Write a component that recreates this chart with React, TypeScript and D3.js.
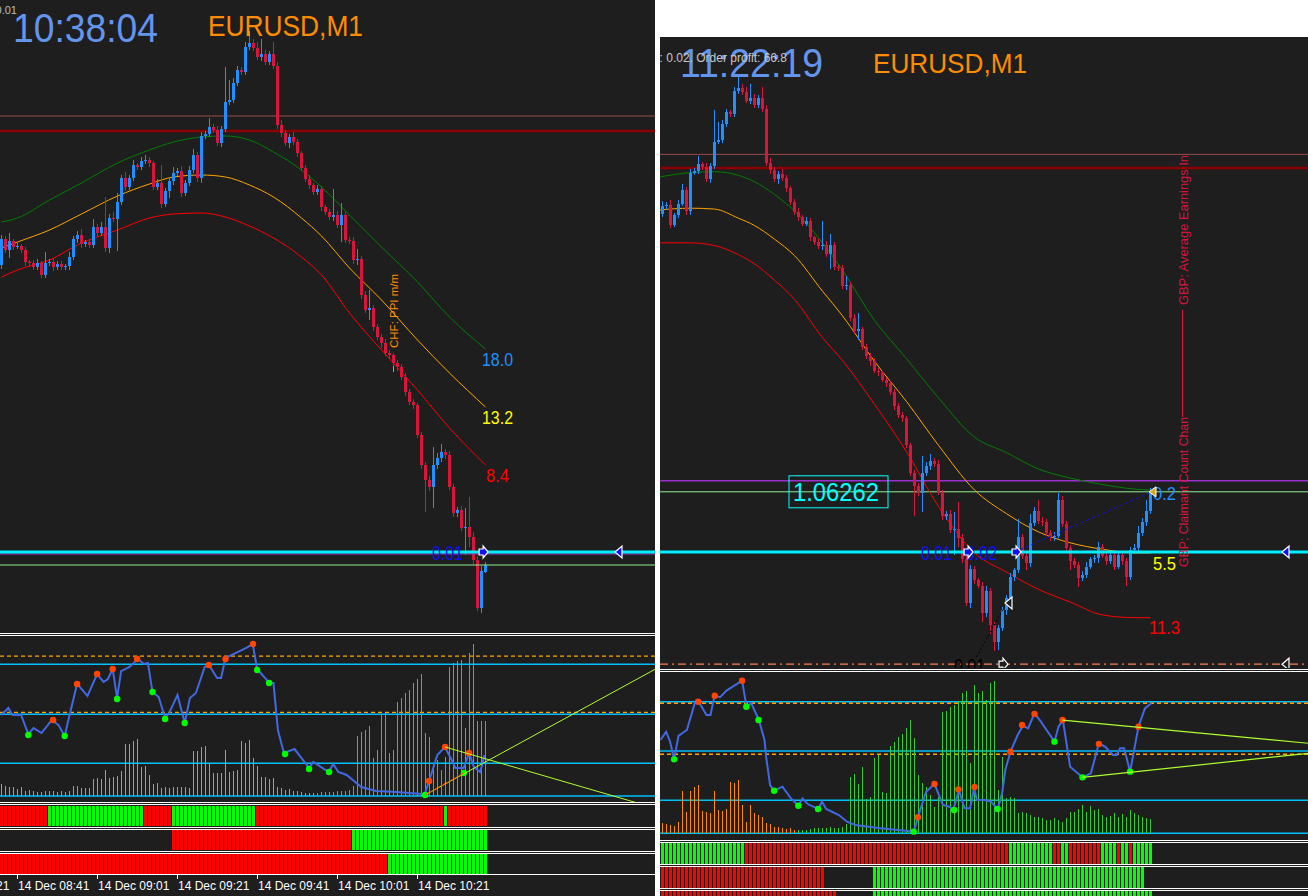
import React from "react";
import * as d3 from "d3";

// ---------------- DATA ----------------
const POINT = 0.00001;
const firstOpen = 1.06483;
// EURUSD M1 closes, bar 0 = 14 Dec 08:37 ... bar 165 = 11:22
const closes = [
  1.06509, 1.06498, 1.06507, 1.06501, 1.06502, 1.06498, 1.06486, 1.06485, 1.06481, 1.06485,
  1.06473, 1.06485, 1.06486, 1.06481, 1.06484, 1.06481, 1.06482, 1.06491, 1.06509, 1.06513,
  1.06504, 1.06506, 1.06503, 1.06521, 1.06515, 1.06521, 1.065, 1.0653, 1.06529, 1.06546,
  1.0657, 1.06561, 1.0657, 1.06583, 1.06581, 1.06587, 1.06588, 1.06585, 1.06561, 1.06565,
  1.06544, 1.06557, 1.06567, 1.06575, 1.06577, 1.06555, 1.06565, 1.06578, 1.06593, 1.0657,
  1.06612, 1.06614, 1.06621, 1.06618, 1.06605, 1.06619, 1.06646, 1.06648, 1.06665, 1.06678,
  1.06676, 1.06701, 1.06705, 1.067, 1.06691, 1.06694, 1.06686, 1.06694, 1.06682, 1.06623,
  1.06615, 1.06605, 1.06611, 1.06606, 1.06595, 1.0658, 1.06569, 1.06563, 1.06556, 1.06559,
  1.06541, 1.06536, 1.06531, 1.06533, 1.06523, 1.06533, 1.06508, 1.06507, 1.06488, 1.06489,
  1.06453, 1.06438, 1.0644, 1.06421, 1.06411, 1.06405, 1.06395, 1.06393, 1.06385, 1.06381,
  1.06371, 1.06356, 1.06346, 1.06343, 1.06313, 1.06283, 1.06268, 1.06261, 1.06283, 1.0629,
  1.06296, 1.06293, 1.06261, 1.06235, 1.06238, 1.0622, 1.06221, 1.06211, 1.06188, 1.0614,
  1.06177, 1.06165, 1.06159, 1.06129, 1.06153, 1.06116, 1.06097, 1.06113, 1.06132, 1.06146,
  1.06169, 1.06176, 1.06212, 1.06192, 1.06184, 1.06228, 1.06241, 1.0623, 1.06229, 1.06217,
  1.06212, 1.06214, 1.06253, 1.06227, 1.062, 1.06186, 1.06182, 1.06168, 1.06171, 1.0618,
  1.06188, 1.06189, 1.06202, 1.06192, 1.06186, 1.06193, 1.0618, 1.06193, 1.06186, 1.06169,
  1.06198, 1.062, 1.06217, 1.06229, 1.06241, 1.06262,
];
// wick lengths in points above / below the body
const wickUp = [
  4, 3, 8, 2, 3, 2, 3, 2, 3, 4, 2, 11, 3, 4, 3, 3, 2, 5, 3, 4,
  6, 2, 3, 8, 3, 5, 30, 4, 6, 9, 3, 6, 3, 5, 2, 4, 5, 3, 2, 4,
  18, 3, 4, 6, 3, 5, 3, 4, 6, 3, 4, 3, 9, 3, 4, 3, 35, 20, 5, 4,
  3, 5, 12, 4, 6, 15, 4, 3, 12, 4, 5, 3, 3, 5, 3, 2, 3, 4, 2, 4,
  3, 2, 3, 26, 4, 12, 3, 3, 4, 10, 3, 4, 18, 3, 3, 3, 4, 3, 2, 3,
  3, 4, 3, 3, 2, 3, 3, 4, 18, 5, 8, 3, 4, 3, 3, 4, 19, 30, 5, 4,
  5, 4, 3, 4, 6, 4, 3, 3, 4, 3, 4, 3, 20, 4, 3, 10, 4, 12, 4, 3,
  3, 4, 8, 4, 3, 4, 3, 3, 4, 5, 3, 4, 5, 3, 4, 3, 4, 3, 4, 3,
  4, 5, 8, 4, 12, 4,
];
const wickDown = [
  4, 3, 8, 3, 2, 3, 4, 3, 3, 3, 3, 3, 3, 4, 3, 3, 3, 4, 3, 4,
  4, 3, 3, 3, 4, 3, 4, 5, 3, 32, 3, 4, 3, 3, 3, 3, 3, 4, 3, 3,
  4, 3, 7, 4, 3, 4, 3, 3, 3, 4, 5, 3, 3, 3, 3, 4, 3, 3, 3, 3,
  3, 3, 3, 3, 3, 4, 3, 3, 3, 4, 4, 3, 5, 3, 4, 3, 3, 4, 3, 3,
  4, 3, 3, 4, 3, 17, 3, 3, 4, 5, 4, 3, 10, 4, 3, 5, 3, 4, 3, 4,
  3, 4, 3, 4, 3, 4, 32, 4, 21, 4, 4, 4, 3, 4, 4, 3, 27, 10, 4, 3,
  5, 4, 3, 10, 4, 10, 10, 8, 4, 5, 4, 5, 3, 4, 8, 4, 3, 3, 4, 4,
  4, 4, 3, 4, 3, 10, 4, 10, 4, 4, 3, 4, 5, 3, 4, 3, 4, 3, 4, 10,
  4, 3, 4, 3, 4, 3,
];
// 10:38 bar as it was at 10:38:04 (open, high, low, close)
const liveBarLeft = [1.06176, 1.06186, 1.06175, 1.06183];

// TMA bands, left snapshot
const maIdxL = [0, 4, 12, 20, 29, 37, 43, 50, 56, 62, 68, 75, 80, 87, 95, 104, 112, 121];
const maUpperL = [1.06526, 1.0653, 1.06548, 1.06565, 1.06585, 1.06598, 1.06606, 1.06611, 1.06612, 1.06608, 1.06596, 1.06578, 1.06561, 1.06533, 1.06501, 1.06466, 1.06431, 1.06399];
const maMiddleL = [1.065, 1.06506, 1.06518, 1.06534, 1.06552, 1.06564, 1.06571, 1.06573, 1.06571, 1.06563, 1.06551, 1.0653, 1.06512, 1.0648, 1.06448, 1.06408, 1.06375, 1.06341];
const maLowerL = [1.06471, 1.06478, 1.06488, 1.06505, 1.06518, 1.0653, 1.06534, 1.06535, 1.06531, 1.06522, 1.0651, 1.06491, 1.06473, 1.06435, 1.06398, 1.06358, 1.0632, 1.06283];
const maLabelsL = ["18.0", "13.2", "8.4"];
// TMA bands, right snapshot
const maIdxR = [42, 50, 56, 62, 66, 71, 76, 83, 88, 96, 104, 112, 121, 129, 137, 145, 153, 161, 165];
const maUpperR = [1.06607, 1.06612, 1.06613, 1.06609, 1.06602, 1.06588, 1.0657, 1.06535, 1.06505, 1.0645, 1.06408, 1.06365, 1.06322, 1.06305, 1.06287, 1.06277, 1.0627, 1.06265, 1.06264];
const maMiddleR = [1.06571, 1.06573, 1.06572, 1.06562, 1.06554, 1.06539, 1.06521, 1.06482, 1.06455, 1.06405, 1.06361, 1.06313, 1.06264, 1.06238, 1.06218, 1.06206, 1.06199, 1.06195, 1.06195];
const maLowerR = [1.06535, 1.06535, 1.06532, 1.06522, 1.06512, 1.06494, 1.06473, 1.06431, 1.06406, 1.06358, 1.06306, 1.06246, 1.06195, 1.06174, 1.06155, 1.06141, 1.06127, 1.06124, 1.06124];
const maLabelsR = ["0.2", "5.5", "11.3"];

// price levels
const levelThin = 1.06632;
const levelThick = 1.06617;
const orderPrice = 1.06196;
const bidL = 1.06183, askL = 1.06194;
const bidR = 1.06262, askR = 1.06274;
const stopR = 1.06073;

// oscillator (left)
const oscIdxL = [0, 1.7, 2.75, 4.9, 6.7, 8, 10, 12.6, 14.25, 15.8, 16.9, 18.9, 21.5, 23.9, 25.5, 26.6, 27.8, 28.9, 29.9, 32, 34.1, 35.6, 36.6, 37.75, 39.3, 40.9, 41.9, 44, 45.8, 47.1, 48.6, 50.8, 51.85, 53.9, 54.9, 56, 58.1, 61.2, 62.8, 63.9, 67, 68, 69.1, 70.6, 73.25, 76.9, 77.95, 81.8, 82.95, 84.2, 86.3, 89.95, 93.6, 98.8, 105.1, 105.8, 106.9, 108.95, 110.85, 112.4, 113.45, 115.55, 116.9, 118.1, 119.7, 120.75];
const oscValL = [54, 58.7, 54, 54, 41.3, 45.3, 42, 50.7, 47.3, 40, 52.7, 74.7, 66.7, 81.3, 76, 78, 84.7, 65.3, 83.3, 86, 91.3, 88, 88.7, 69.3, 66, 52, 55.3, 67.3, 48.7, 65.3, 68.7, 86, 87.3, 78.7, 78.7, 92, 94.7, 98.7, 101.3, 84.7, 75.3, 75.3, 44, 28.7, 31.3, 18.7, 22.7, 16, 21.3, 16, 14, 6, 3.3, 2.7, 1.3, 1.3, 10, 27.3, 32.7, 24.7, 18.7, 18.7, 28.7, 19.3, 16, 27.3];
const peakIdxL = [12.9, 18.9, 23.9, 27.8, 33.9, 51.85, 56, 62.9, 106.9, 110.9, 116.9];
const peakValL = [50.7, 74.7, 81.3, 84.7, 91.3, 87.3, 91.3, 101.3, 10, 32.7, 28.7];
const troughIdxL = [6.7, 15.8, 28.9, 37.75, 40.9, 45.8, 63.9, 66.9, 70.9, 76.9, 81.9, 105.9, 115.6];
const troughValL = [40.7, 40, 64.7, 69.3, 51.3, 48.7, 84, 75.3, 28, 18, 16, 0.7, 15.3];
const histL = [
  8, 6.7, 6.2, 6.2, 4.4, 5.8, 3.3, 4, 3.3, 2.7, 2.9, 3.3, 3.6, 3.6, 2.7, 3.3, 2.9, 3.3, 6.7, 6.7,
  5.6, 5.1, 5.6, 11.3, 12.2, 11.1, 17.3, 12.2, 12.9, 13.3, 16.9, 34.7, 34.7, 36.4, 38, 19.6, 20, 14.2, 8, 8.9,
  5.6, 5.8, 5.6, 6.2, 6.2, 5.8, 6.2, 5.6, 30.2, 30.2, 32.4, 33.3, 21.8, 15.6, 15.1, 15.6, 30.7, 16.2, 16.9, 17.3,
  36.4, 35.1, 37.3, 25.1, 20, 12.9, 12.9, 11.6, 12, 6.2, 5.1, 4, 4.4, 3.6, 3.1, 2.7, 2.2, 2.2, 2, 2.2,
  2.4, 2.7, 2.9, 2.9, 3.1, 3.3, 3.3, 4, 6.7, 40, 42.9, 44, 46.7, 25.1, 30.7, 55, 55.6, 28.4, 30.7, 62.9,
  65.1, 68.4, 70.7, 75.1, 77.8, 81.3, 41.8, 39.6, 21.8, 24, 17.3, 26.2, 86.2, 88.4, 90.2, 90.7, 45.1, 95.6, 101.3, 50.2,
  50.2, 50.2,
];
const histGreenFromL = 79;
const levelsCyanL = [0, 21.8, 54.5, 87.8];
const levelsOrangeL = [93.3, 55.8];
const trendL = [[[110.85, 32.7], [158.4, -4.2]], [[105.9, 0.7], [163.4, 84.5]]];
const trendHiL = [[105.9, 0.7], [115.6, 15.3]];

// oscillator (right)
const oscIdxR = [42.5, 43.9, 44.9, 45.9, 47, 49.1, 51.1, 52.2, 54, 55, 56, 57.4, 59, 62.9, 64, 65.2, 67.1, 68.5, 68.9, 69.9, 70.9, 73, 75.1, 77, 78, 79.3, 81.9, 82.9, 83.9, 87.1, 89.1, 91.2, 97.5, 103.7, 105.8, 106.9, 108.9, 111, 113.1, 114.7, 115.7, 117.1, 118.5, 119.9, 120.9, 121.6, 123.5, 125.1, 126.8, 127.9, 128.7, 130, 131.8, 133.1, 134.4, 136, 137.6, 139.3, 141, 142, 143.1, 144.9, 148, 150.1, 152.1, 153.7, 155.6, 156.6, 157.4, 158.4, 159.9, 162, 163.6, 165.2];
const oscValR = [62.2, 67.7, 61.1, 49.3, 64.9, 68.9, 87.1, 87.1, 78.9, 78.9, 91.7, 90.7, 95.1, 101.7, 84.4, 86.7, 75.5, 62.2, 51.1, 32.2, 28.4, 31.1, 23.3, 18.4, 23.3, 19.5, 16.2, 21.1, 16.2, 12.2, 7.7, 5.5, 3.3, 1.7, 1.1, 11.1, 27.7, 32.9, 18.9, 17.7, 15.5, 28.9, 16.7, 16.7, 30, 22.2, 22.2, 21.1, 16.2, 26.7, 42.2, 54.4, 65.5, 71.7, 70, 80, 74.4, 67.7, 61.1, 71.1, 75.5, 44.4, 37.3, 40, 60, 57.7, 52.2, 52.2, 56.7, 56.7, 41.1, 71.1, 83.3, 86.7];
const peakIdxR = [51.9, 56.05, 62.9, 106.85, 111, 116.95, 121, 129.96, 132.9, 136, 143, 152.1, 162];
const peakValR = [87.7, 91.7, 101.7, 10.7, 32.9, 29.3, 30.9, 54.4, 72.2, 79.6, 75.5, 59.6, 71.1];
const troughIdxR = [45.9, 63.95, 67, 70.9, 76.96, 81.9, 105.8, 115.9, 126.8, 141, 148, 159.9];
const troughValR = [49.3, 84.4, 75.5, 28.4, 18.4, 16.2, 1.1, 15.5, 16.2, 61.1, 37.3, 41.1];
const histStartR = 43;
const histR = [
  6.7, 6.2, 5.8, 5.1, 7.8, 28.2, 14.4, 28.2, 31.1, 32.2,
  15.1, 14, 13.8, 28.2, 15.6, 14.9, 16, 34.4, 33.8, 35.6,
  18.9, 7.8, 18.7, 13.3, 12.2, 11.1, 6.7, 6.2, 4.4, 4,
  3.3, 2.9, 3.3, 2.2, 2.2, 2.2, 2.2, 2.9, 3.3, 3.8,
  3.3, 3.8, 4.4, 3.3, 3.8, 4.4, 6, 37.8, 39.3, 32.9,
  44.4, 22.7, 24, 50, 52.2, 27.8, 27.1, 58.2, 61.1, 64.4,
  66.2, 70, 75.6, 63.3, 38.9, 33.8, 31.1, 25.6, 17.8, 24,
  81.1, 81.8, 84.4, 85.6, 88.4, 93.8, 95.1, 47.1, 98.9, 93.3,
  95.1, 88.9, 100, 101.8, 28.9, 51.1, 23.3, 24, 23.3, 13.3,
  14.4, 13.3, 12.2, 11.1, 11.1, 10, 8.9, 8.9, 10, 8.9,
  7.8, 10, 14.4, 14.4, 16, 18.9, 14.4, 18.2, 15.6, 16,
  12.2, 11.1, 11.6, 13.3, 11.1, 12.9, 10.7, 15.6, 13.3, 12.2,
  11.1, 10, 9.6,
];
const histGreenFromR = 77;
const levelsCyanR = [0, 22, 54.9, 87.7];
const levelsOrangeR = [86.7, 52.7];
const trendR = [[[143, 75.5], [204.5, 60]], [[148, 37.3], [204.5, 53.3]]];

// trend state rows (run lengths: colour, bar count)
const rowL1 = [["r", 12], ["g", 24], ["r", 7], ["g", 21], ["r", 47], ["g", 1], ["r", 10]];
const rowL2 = [["-", 43], ["r", 45], ["g", 34]];
const rowL3 = [["r", 97], ["g", 25]];
const rowR1 = [["g", 21], ["r", 66], ["g", 11], ["r", 2], ["g", 2], ["r", 8], ["g", 4], ["r", 1], ["g", 2], ["r", 1], ["g", 5]];
const rowR2 = [["r", 41], ["-", 12], ["g", 68], ["-", 2]];
const rowR3 = [["r", 44], ["-", 9], ["g", 70]];

// time axis (left)
const tickBarsL = [-16, 4, 24, 44, 64, 84, 104];
const tickLabelsL = ["14 Dec 08:21", "14 Dec 08:41", "14 Dec 09:01", "14 Dec 09:21", "14 Dec 09:41", "14 Dec 10:01", "14 Dec 10:21"];

// ---------------- DRAWING ----------------
const DARK = "#1e1e1e";
const BULL = "#1e90ff";
const BEAR = "#dc143c";
const FONT = "'Liberation Sans', Arial, sans-serif";

function buildBars() {
  return closes.map((c, i) => {
    const o = i === 0 ? firstOpen : closes[i - 1];
    return { i, o, c, h: Math.max(o, c) + wickUp[i] * POINT, l: Math.min(o, c) - wickDown[i] * POINT };
  });
}

function Candles({ bars, x, y }) {
  return (
    <g shapeRendering="crispEdges">
      {bars.map((b) => {
        const col = b.c >= b.o ? BULL : BEAR;
        const cx = x(b.i);
        const top = y(Math.max(b.o, b.c));
        const bot = y(Math.min(b.o, b.c));
        return (
          <g key={b.i}>
            <line x1={cx} x2={cx} y1={y(b.h)} y2={y(b.l)} stroke={col} strokeWidth={1} />
            <rect x={cx - 1.5} y={top} width={3} height={Math.max(1, bot - top)} fill={col} />
          </g>
        );
      })}
    </g>
  );
}

function expandRuns(runs, start) {
  const out = [];
  let i = start;
  for (const [c, n] of runs) {
    for (let k = 0; k < n; k++) {
      if (c !== "-") out.push({ i, c });
      i++;
    }
  }
  return out;
}

function StateRow({ runs, start, x, y0, h }) {
  return (
    <g shapeRendering="crispEdges">
      {expandRuns(runs, start).map((d) => (
        <rect key={d.i} x={x(d.i) - 1.5} y={y0} width={3} height={h} fill={d.c === "r" ? "#ff0000" : "#00ff00"} />
      ))}
    </g>
  );
}

function ArrowRight({ cx, cy, fill }) {
  const p = [[-4, -3], [0, -3], [0, -6], [5, 0], [0, 6], [0, 3], [-4, 3]];
  return <polygon points={p.map(([a, b]) => `${cx + a},${cy + b}`).join(" ")} fill={fill} stroke="#ffffff" strokeWidth={1.2} />;
}
function TriLeft({ cx, cy, fill }) {
  const p = [[-4, 0], [3, -6], [3, 6]];
  return <polygon points={p.map(([a, b]) => `${cx + a},${cy + b}`).join(" ")} fill={fill} stroke="#ffffff" strokeWidth={1.2} />;
}

function MAs({ idx, upper, middle, lower, x, y }) {
  const mk = (vals) => d3.line().x((d) => x(d[0])).y((d) => y(d[1])).curve(d3.curveMonotoneX)(idx.map((v, k) => [v, vals[k]]));
  return (
    <g fill="none" strokeWidth={1}>
      <path d={mk(upper)} stroke="#008000" />
      <path d={mk(middle)} stroke="#ffa500" />
      <path d={mk(lower)} stroke="#ff0000" />
    </g>
  );
}

function Osc({ idx, vals, peaksI, peaksV, troughsI, troughsV, x, o }) {
  const path = d3.line().x((d) => x(d[0])).y((d) => o(d[1]))(idx.map((v, k) => [v, vals[k]]));
  return (
    <g>
      <path d={path} fill="none" stroke="#4169e1" strokeWidth={2} />
      {peaksI.map((v, k) => (
        <circle key={"p" + k} cx={x(v)} cy={o(peaksV[k])} r={3.2} fill="#ff4500" />
      ))}
      {troughsI.map((v, k) => (
        <circle key={"t" + k} cx={x(v)} cy={o(troughsV[k])} r={3.2} fill="#00ff00" />
      ))}
    </g>
  );
}

function Hist({ vals, start, greenFrom, x, o }) {
  return (
    <g shapeRendering="crispEdges">
      {vals.map((v, k) => {
        const i = start + k;
        return (
          <line key={i} x1={x(i)} x2={x(i)} y1={o(0)} y2={o(v)} stroke={i < greenFrom ? "#ff8c00" : "#32cd32"} strokeWidth={1} />
        );
      })}
    </g>
  );
}

export default function App() {
  const xL = d3.scaleLinear().domain([0, 121]).range([1.5, 485.5]);
  const xR = d3.scaleLinear().domain([43, 165]).range([662.5, 1150.5]);
  const yL = d3.scaleLinear().domain([1.06, 1.067]).range([748, 48]);
  const yR = d3.scaleLinear().domain([1.06, 1.067]).range([730.75, 92.35]);
  const oL = d3.scaleLinear().domain([0, 100]).range([796, 646]);
  const oR = d3.scaleLinear().domain([0, 100]).range([833.3, 683.3]);

  const all = buildBars();
  const leftBars = all.slice(0, 121).concat([
    { i: 121, o: liveBarLeft[0], h: liveBarLeft[1], l: liveBarLeft[2], c: liveBarLeft[3] },
  ]);
  const rightBars = all.slice(43);

  const lastL = maIdxL[maIdxL.length - 1];
  const lastR = maIdxR[maIdxR.length - 1];
  const endL = [maUpperL, maMiddleL, maLowerL].map((a) => a[a.length - 1]);
  const endR = [maUpperR, maMiddleR, maLowerR].map((a) => a[a.length - 1]);
  const labelCols = ["#1e90ff", "#ffff00", "#ff0000"];
  const dyL = [17, 17, 17];
  const dyR = [10, 17, 16];

  const hline = (y, x1, x2, stroke, w, dash?) => (
    <line x1={x1} x2={x2} y1={y} y2={y} stroke={stroke} strokeWidth={w} strokeDasharray={dash} />
  );

  return (
    <div style={{ position: "absolute", left: 0, top: 0 }}>
      <svg width={1308} height={896} style={{ display: "block" }} fontFamily={FONT}>
        <defs>
          <clipPath id="cLM"><rect x={0} y={0} width={655} height={632} /></clipPath>
          <clipPath id="cLO"><rect x={0} y={637} width={655} height={165} /></clipPath>
          <clipPath id="cRM"><rect x={660} y={37} width={648} height={631} /></clipPath>
          <clipPath id="cRO"><rect x={660} y={672} width={648} height={168} /></clipPath>
          <clipPath id="cR"><rect x={660} y={37} width={648} height={859} /></clipPath>
          <clipPath id="cL"><rect x={0} y={0} width={655} height={896} /></clipPath>
        </defs>
        <rect x={0} y={0} width={1308} height={896} fill="#ffffff" />
        <rect x={0} y={0} width={655} height={896} fill={DARK} />
        <rect x={660} y={37} width={648} height={859} fill={DARK} />

        {/* ================= LEFT ================= */}
        <g clipPath="url(#cLM)">
          {hline(yL(levelThin), 0, 655, "#9a4a4a", 1)}
          {hline(yL(levelThick), 0, 655, "#8b0000", 2.5)}
          <MAs idx={maIdxL} upper={maUpperL} middle={maMiddleL} lower={maLowerL} x={xL} y={yL} />
          <line x1={xL(98)} x2={xL(98)} y1={353} y2={372} stroke="#ff8c00" strokeWidth={1} />
          <text transform="translate(398,348) rotate(-90)" fill="#ff8c00" fontSize={11.5}>CHF: PPI m/m</text>
          <Candles bars={leftBars} x={xL} y={yL} />
          {hline(yL(bidL), 0, 655, "#90ee90", 1)}
          {hline(yL(askL), 0, 655, "#9932cc", 1)}
          {hline(yL(orderPrice), 0, 655, "#00f0ff", 3)}
          {endL.map((v, k) => (
            <text key={k} x={xL(lastL) + 12} y={yL(v) + dyL[k]} fill={labelCols[k]} fontSize={18} textAnchor="middle" textLength={k === 2 ? 23 : 31} lengthAdjust="spacingAndGlyphs">{maLabelsL[k]}</text>
          ))}
          <text x={432} y={560} fill="#1010f0" fontSize={20} textLength={31} lengthAdjust="spacingAndGlyphs">0.01</text>
          <ArrowRight cx={xL(120.4)} cy={yL(orderPrice)} fill="#1010f0" />
          <TriLeft cx={619} cy={yL(orderPrice)} fill="#1010f0" />
          <text x={42} y={42} fill="#6495ed" fontSize={41} textLength={145} lengthAdjust="spacingAndGlyphs" textAnchor="start" transform="translate(-29,0)">10:38:04</text>
          <text x={17} y={14} fill="#bdbdbd" fontSize={11} textAnchor="end">Lot: 0.01</text>
          <text x={208} y={36} fill="#ff8c00" fontSize={29} textLength={155} lengthAdjust="spacingAndGlyphs">EURUSD,M1</text>
        </g>

        {/* left separators */}
        <g stroke="#ffffff" strokeWidth={1} shapeRendering="crispEdges">
          {hline(633.5, 0, 655, "#ffffff", 1)}
          {hline(635.5, 0, 655, "#ffffff", 1)}
          {hline(802.5, 0, 655, "#ffffff", 1)}
          {hline(804.5, 0, 655, "#ffffff", 1)}
          {hline(827.5, 0, 655, "#ffffff", 1)}
          {hline(829.5, 0, 655, "#ffffff", 1)}
          {hline(851.5, 0, 655, "#ffffff", 1)}
          {hline(853.5, 0, 655, "#ffffff", 1)}
          {hline(874.5, 0, 655, "#ffffff", 1)}
        </g>

        {/* left oscillator */}
        <g clipPath="url(#cLO)">
          {levelsOrangeL.map((v, k) => <g key={"lo" + k}>{hline(oL(v), 0, 655, "#ffa500", 1.3, "4,3")}</g>)}
          {levelsCyanL.map((v, k) => <g key={"lc" + k}>{hline(oL(v), 0, 655, "#00bfff", 1.5)}</g>)}
          <Hist vals={histL} start={0} greenFrom={histGreenFromL} x={xL} o={oL} />
          <Osc idx={oscIdxL} vals={oscValL} peaksI={peakIdxL} peaksV={peakValL} troughsI={troughIdxL} troughsV={troughValL} x={xL} o={oL} />
          {trendL.map((seg, k) => (
            <line key={"tl" + k} x1={xL(seg[0][0])} y1={oL(seg[0][1])} x2={xL(seg[1][0])} y2={oL(seg[1][1])} stroke="#adff2f" strokeWidth={1} />
          ))}
          <line x1={xL(trendHiL[0][0])} y1={oL(trendHiL[0][1])} x2={xL(trendHiL[1][0])} y2={oL(trendHiL[1][1])} stroke="#ff4500" strokeWidth={1.2} strokeDasharray="2,1" />
        </g>

        {/* left state rows */}
        <StateRow runs={rowL1} start={0} x={xL} y0={806} h={20} />
        <StateRow runs={rowL2} start={0} x={xL} y0={830} h={20} />
        <StateRow runs={rowL3} start={0} x={xL} y0={854} h={20} />

        {/* left time axis */}
        <g clipPath="url(#cL)">
          {tickBarsL.map((b, k) => (
            <g key={"tk" + k}>
              <line x1={xL(b)} x2={xL(b)} y1={875} y2={879} stroke="#ffffff" strokeWidth={1} />
              <text x={xL(b) + 0.5} y={890} fill="#ffffff" fontSize={12}>{tickLabelsL[k]}</text>
            </g>
          ))}
        </g>

        {/* ================= RIGHT ================= */}
        <g clipPath="url(#cRM)">
          {hline(yR(levelThin), 660, 1308, "#9a4a4a", 1)}
          {hline(yR(levelThick), 660, 1308, "#8b0000", 2.5)}
          {hline(yR(askR), 660, 1308, "#9932cc", 1.5)}
          {hline(yR(bidR), 660, 1308, "#90ee90", 1)}
          <MAs idx={maIdxR} upper={maUpperR} middle={maMiddleR} lower={maLowerR} x={xR} y={yR} />
          <Candles bars={rightBars} x={xR} y={yR} />
          {hline(yR(orderPrice), 660, 1308, "#00f0ff", 3)}
          {hline(yR(stopR), 660, 1308, "#ff7f50", 1.2, "8,4,2,4")}
          <line x1={xR(131.1)} y1={yR(orderPrice)} x2={xR(165.3)} y2={yR(bidR)} stroke="#1010f0" strokeWidth={1} strokeDasharray="3,3" />
          <line x1={xR(121.5)} y1={yR(1.06081)} x2={xR(129)} y2={yR(1.0614)} stroke="#000000" strokeWidth={1} strokeDasharray="2,2" />
          {endR.map((v, k) => (
            <text key={k} x={xR(lastR) + 14} y={yR(v) + dyR[k]} fill={labelCols[k]} fontSize={18} textAnchor="middle" textLength={k === 2 ? 31 : 23} lengthAdjust="spacingAndGlyphs">{maLabelsR[k]}</text>
          ))}
          <text x={921} y={560} fill="#1010f0" fontSize={20} textLength={31} lengthAdjust="spacingAndGlyphs">0.01</text>
          <text x={966} y={560} fill="#1010f0" fontSize={20} textLength={31} lengthAdjust="spacingAndGlyphs">0.02</text>
          <text x={954} y={673} fill="#000000" fontSize={20} textLength={31} lengthAdjust="spacingAndGlyphs">0.01</text>
          <ArrowRight cx={xR(119.4)} cy={yR(orderPrice)} fill="#1010f0" />
          <ArrowRight cx={xR(131.4)} cy={yR(orderPrice)} fill="#1010f0" />
          <TriLeft cx={1009} cy={yR(1.0614)} fill={DARK} />
          <ArrowRight cx={1003} cy={yR(stopR)} fill={DARK} />
          <TriLeft cx={1286} cy={yR(orderPrice)} fill="#1010f0" />
          <TriLeft cx={1286} cy={yR(stopR)} fill={DARK} />
          <polygon points={`${1149},${yR(bidR)} ${1156},${yR(bidR) - 5} ${1156},${yR(bidR) + 5}`} fill="#daa520" stroke="#ffffff" strokeWidth={1} />
          <rect x={789} y={yR(bidR) - 16} width={99} height={32} fill="none" stroke="#00ffff" strokeWidth={1} />
          <text x={793} y={yR(bidR) + 9} fill="#00ffff" fontSize={25} textLength={86} lengthAdjust="spacingAndGlyphs">1.06262</text>
          <text transform="translate(1188,305) rotate(-90)" fill="#dc143c" fontSize={13} textLength={150} lengthAdjust="spacingAndGlyphs">GBP: Average Earnings In</text>
          <line x1={1182.5} x2={1182.5} y1={310} y2={417} stroke="#dc143c" strokeWidth={1} />
          <text transform="translate(1188,567) rotate(-90)" fill="#dc143c" fontSize={13} textLength={150} lengthAdjust="spacingAndGlyphs">GBP: Claimant Count Chan</text>
          <text x={680} y={77} fill="#6495ed" fontSize={41} textLength={143} lengthAdjust="spacingAndGlyphs">11:22:19</text>
          <text x={787} y={62} fill="#c8c8c8" fontSize={12} textAnchor="end">Lot: 0.02. Order profit: 66.8</text>
          <text x={873} y={73} fill="#ff8c00" fontSize={28} textLength={154} lengthAdjust="spacingAndGlyphs">EURUSD,M1</text>
        </g>

        {/* right separators */}
        <g shapeRendering="crispEdges">
          {hline(669.5, 660, 1308, "#ffffff", 1)}
          {hline(671.5, 660, 1308, "#ffffff", 1)}
          {hline(840.5, 660, 1308, "#ffffff", 1)}
          {hline(842.5, 660, 1308, "#ffffff", 1)}
          {hline(864.5, 660, 1308, "#ffffff", 1)}
          {hline(866.5, 660, 1308, "#ffffff", 1)}
          {hline(888.5, 660, 1308, "#ffffff", 1)}
          {hline(890.5, 660, 1308, "#ffffff", 1)}
        </g>

        {/* right oscillator */}
        <g clipPath="url(#cRO)">
          {levelsCyanR.map((v, k) => <g key={"rc" + k}>{hline(oR(v), 660, 1308, "#00bfff", 1.5)}</g>)}
          {levelsOrangeR.map((v, k) => <g key={"ro" + k}>{hline(oR(v), 660, 1308, "#ffa500", 1.3, "4,3")}</g>)}
          <Hist vals={histR} start={histStartR} greenFrom={histGreenFromR} x={xR} o={oR} />
          <Osc idx={oscIdxR} vals={oscValR} peaksI={peakIdxR} peaksV={peakValR} troughsI={troughIdxR} troughsV={troughValR} x={xR} o={oR} />
          {trendR.map((seg, k) => (
            <line key={"tr" + k} x1={xR(seg[0][0])} y1={oR(seg[0][1])} x2={xR(seg[1][0])} y2={oR(seg[1][1])} stroke="#adff2f" strokeWidth={1.2} />
          ))}
        </g>

        {/* right state rows */}
        <g clipPath="url(#cR)">
          <StateRow runs={rowR1} start={43} x={xR} y0={843} h={21} />
          <StateRow runs={rowR2} start={43} x={xR} y0={867} h={21} />
          <StateRow runs={rowR3} start={43} x={xR} y0={891} h={21} />
        </g>
      </svg>
    </div>
  );
}
